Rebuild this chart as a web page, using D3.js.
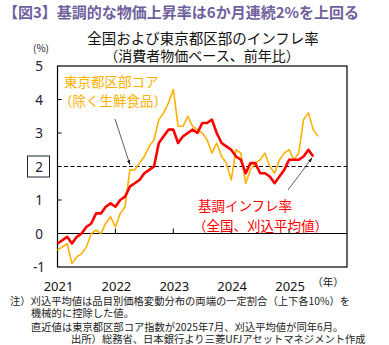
<!DOCTYPE html>
<html><head><meta charset="utf-8">
<script src="https://cdn.jsdelivr.net/npm/d3@7"></script>
<style>
body{margin:0;background:#fff;}
svg{display:block;font-family:"Noto Sans CJK JP","Noto Sans",sans-serif;}
</style></head>
<body>
<script>
// Tokyo ward-area core CPI (ex fresh food), y/y %, Jan 2021 - Jul 2025
const tokyoCore = [
  -0.5,-0.4,-0.3,-0.9,-0.7,-0.6,-0.4,0.0,0.1,0.0,0.3,0.5,
  0.2,0.6,0.8,1.9,1.9,2.1,2.3,2.6,2.8,3.4,3.6,3.9,
  4.3,3.2,3.2,3.5,3.2,3.1,3.0,2.8,2.4,2.7,2.3,2.1,
  1.6,2.5,2.4,1.5,1.9,2.1,2.2,2.4,2.0,1.8,2.2,2.4,
  2.5,2.2,2.4,3.4,3.6,3.1,2.9
];
// National trimmed mean, y/y %, Jan 2021 - Jun 2025
const trimmedMean = [
  -0.3,-0.2,-0.1,-0.3,-0.1,0.0,0.2,0.3,0.6,0.6,0.8,0.9,
  0.8,1.0,1.1,1.4,1.5,1.6,1.8,1.9,2.0,2.7,2.9,3.1,
  3.1,2.7,2.9,3.0,3.1,3.0,3.3,3.3,3.4,3.0,2.7,2.6,
  2.5,2.3,2.2,1.8,2.1,2.1,1.8,1.8,1.7,1.5,1.7,1.9,
  2.2,2.2,2.2,2.3,2.5,2.3
];
const years = ["2021","2022","2023","2024","2025"];
const yTicks = [5,4,3,2,1,0,-1];

const W = 389, H = 345;
const svg = d3.select("body").append("svg").attr("width",W).attr("height",H);

const x = d3.scaleLinear().domain([0,60]).range([57.5,347]);
const y = d3.scaleLinear().domain([-1,5]).range([267,66]);

// Titles
svg.append("text").attr("x",3).attr("y",18).attr("font-size",15).attr("font-weight","bold")
  .attr("fill","#6f5f9c").text("【図3】基調的な物価上昇率は6か月連続2%を上回る");
svg.append("text").attr("x",203).attr("y",44).attr("text-anchor","middle").attr("font-size",14.5)
  .attr("fill","#111").text("全国および東京都区部のインフレ率");
svg.append("text").attr("x",202).attr("y",61).attr("text-anchor","middle").attr("font-size",14)
  .attr("fill","#111").text("（消費者物価ベース、前年比）");
svg.append("text").attr("x",41).attr("y",52).attr("text-anchor","middle").attr("font-size",10)
  .attr("fill","#1a2233").text("(%)");

// Frame
svg.append("rect").attr("x",x(0)).attr("y",y(5)).attr("width",x(60)-x(0)).attr("height",y(-1)-y(5))
  .attr("fill","none").attr("stroke","#000").attr("stroke-width",1.2);

// y ticks (inside)
[1,3,4].forEach(v=>{
  svg.append("line").attr("x1",x(0)).attr("x2",x(0)+4).attr("y1",y(v)).attr("y2",y(v))
    .attr("stroke","#000").attr("stroke-width",1);
});
// y labels
yTicks.forEach(v=>{
  svg.append("text").attr("x",39).attr("y",y(v)+5).attr("text-anchor","middle")
    .attr("font-family","Noto Sans,sans-serif").attr("font-size",13.5).attr("fill","#1a2233").text(v);
});
// box around 2
svg.append("rect").attr("x",27.5).attr("y",y(2)-10.5).attr("width",22).attr("height",21)
  .attr("fill","none").attr("stroke","#1a2233").attr("stroke-width",1);

// zero line and year ticks
svg.append("line").attr("x1",x(0)).attr("x2",x(60)).attr("y1",y(0)).attr("y2",y(0))
  .attr("stroke","#000").attr("stroke-width",1.2);
[12,24,36,48].forEach(m=>{
  svg.append("line").attr("x1",x(m)).attr("x2",x(m)).attr("y1",y(0)).attr("y2",y(0)-5)
    .attr("stroke","#000").attr("stroke-width",1);
});
// 2% dashed line
svg.append("line").attr("x1",x(0)).attr("x2",x(60)).attr("y1",y(2)).attr("y2",y(2))
  .attr("stroke","#000").attr("stroke-width",1).attr("stroke-dasharray","4,2.5");

// year labels
years.forEach((t,i)=>{
  svg.append("text").attr("x",x(i*12)+1).attr("y",291).attr("text-anchor","middle")
    .attr("font-family","Noto Sans,sans-serif").attr("font-size",13).attr("fill","#111").text(t);
});
svg.append("text").attr("x",328).attr("y",286).attr("text-anchor","middle").attr("font-size",10.5)
  .attr("fill","#111").text("（年）");

// lines
const line = d3.line().x((d,i)=>x(i)).y(d=>y(d));
svg.append("path").datum(tokyoCore).attr("d",line).attr("fill","none")
  .attr("stroke","#ffb000").attr("stroke-width",1.6).attr("stroke-linejoin","round");
svg.append("path").datum(trimmedMean).attr("d",line).attr("fill","none")
  .attr("stroke","#ff0000").attr("stroke-width",2.6).attr("stroke-linejoin","round");

// arrows
const defs = svg.append("defs");
defs.append("marker").attr("id","ah").attr("viewBox","0 0 10 10").attr("refX",9).attr("refY",5)
  .attr("markerWidth",6).attr("markerHeight",6).attr("orient","auto")
  .append("path").attr("d","M0,1.5 L10,5 L0,8.5 z").attr("fill","#222");
svg.append("line").attr("x1",115).attr("y1",119).attr("x2",x(15)).attr("y2",y(2)-2)
  .attr("stroke","#333").attr("stroke-width",0.8).attr("marker-end","url(#ah)");
svg.append("line").attr("x1",288).attr("y1",190).attr("x2",312).attr("y2",158)
  .attr("stroke","#333").attr("stroke-width",0.8).attr("marker-end","url(#ah)");

// labels
svg.append("text").attr("x",64).attr("y",87).attr("font-size",13.5).attr("fill","#ffb000").text("東京都区部コア");
svg.append("text").attr("x",59).attr("y",106).attr("font-size",13.5).attr("fill","#ffb000").text("（除く生鮮食品）");
svg.append("text").attr("x",198).attr("y",211).attr("font-size",13.5).attr("fill","#ff0000").text("基調インフレ率");
svg.append("text").attr("x",193).attr("y",231).attr("font-size",13.5).attr("fill","#ff0000").text("（全国、刈込平均値）");

// footnotes
const fn = [
  [10,305,"注）刈込平均値は品目別価格変動分布の両端の一定割合（上下各10%）を"],
  [31,317,"機械的に控除した値。"],
  [31,331,"直近値は東京都区部コア指数が2025年7月、刈込平均値が同年6月。"],
  [71,343,"出所）総務省、日本銀行より三菱UFJアセットマネジメント作成"]
];
fn.forEach(([fx,fy,t])=>{
  svg.append("text").attr("x",fx).attr("y",fy).attr("font-size",10.3).attr("fill","#222").text(t);
});
</script>
</body></html>
